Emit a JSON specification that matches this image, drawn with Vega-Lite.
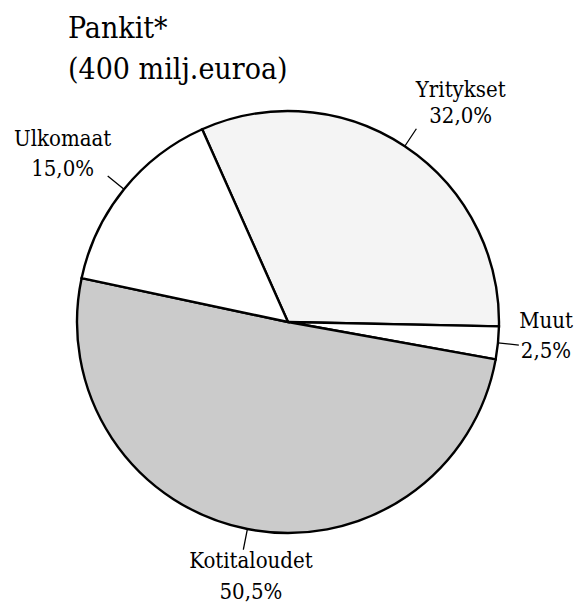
{
  "$schema": "https://vega.github.io/schema/vega-lite/v6.json",
  "width": 576,
  "height": 566,
  "autosize": {"type": "none"},
  "padding": {"left": 0, "top": 39, "right": 0, "bottom": 0},
  "background": "white",
  "title": {
    "text": ["Pankit*", "(400 milj.euroa)"],
    "anchor": "start",
    "frame": "group",
    "font": "DejaVu Serif Condensed, DejaVu Serif",
    "fontSize": 30,
    "fontWeight": "normal",
    "color": "black",
    "lineHeight": 41,
    "dx": 68,
    "dy": 46,
    "offset": 0
  },
  "config": {"view": {"stroke": null}},
  "data": {
    "values": [
      {"cat": "Yritykset", "value": 32.0, "pct": "32,0%", "i": 1},
      {"cat": "Muut", "value": 2.5, "pct": "2,5%", "i": 2},
      {"cat": "Kotitaloudet", "value": 50.5, "pct": "50,5%", "i": 3},
      {"cat": "Ulkomaat", "value": 15.0, "pct": "15,0%", "i": 4}
    ]
  },
  "transform": [{"calculate": "datum.cat + '\\n' + datum.pct", "as": "label"}],
  "encoding": {
    "theta": {"field": "value", "type": "quantitative", "stack": true, "scale": {"range": [-0.4189, 5.8643]}},
    "order": {"field": "i", "type": "quantitative"}
  },
  "layer": [
    {
      "mark": {"type": "arc", "outerRadius": 211, "stroke": "black", "strokeWidth": 2.4},
      "encoding": {
        "color": {
          "field": "cat",
          "type": "nominal",
          "scale": {"domain": ["Yritykset", "Muut", "Kotitaloudet", "Ulkomaat"], "range": ["#f4f4f4", "#ffffff", "#cbcbcb", "#ffffff"]},
          "legend": null
        }
      }
    },
    {
      "transform": [{"stack": "value", "groupby": [], "sort": [{"field": "i", "order": "ascending"}], "as": ["start", "end"]}],
      "mark": {"type": "arc", "radius": 232, "radius2": 211, "padAngle": 3.2, "thetaOffset": 0.025, "theta2Offset": -0.025, "filled": false, "stroke": "black", "strokeWidth": 1.3},
      "encoding": {
        "theta": {"field": "start", "type": "quantitative"},
        "theta2": {"field": "end"}
      }
    },
    {
      "mark": {"type": "text", "radius": 289, "thetaOffset": 0.054, "font": "DejaVu Serif Condensed, DejaVu Serif", "fontSize": 22, "lineBreak": "\n", "lineHeight": 26, "color": "black"},
      "encoding": {
        "text": {"condition": {"test": "datum.cat === 'Yritykset'", "field": "label"}, "value": ""}
      }
    },
    {
      "mark": {"type": "text", "radius": 258, "thetaOffset": -0.103, "font": "DejaVu Serif Condensed, DejaVu Serif", "fontSize": 22, "lineBreak": "\n", "lineHeight": 30, "color": "black"},
      "encoding": {
        "text": {"condition": {"test": "datum.cat === 'Muut'", "field": "label"}, "value": ""}
      }
    },
    {
      "mark": {"type": "text", "radius": 242, "thetaOffset": -0.04, "font": "DejaVu Serif Condensed, DejaVu Serif", "fontSize": 22, "lineBreak": "\n", "lineHeight": 31, "color": "black"},
      "encoding": {
        "text": {"condition": {"test": "datum.cat === 'Kotitaloudet'", "field": "label"}, "value": ""}
      }
    },
    {
      "mark": {"type": "text", "radius": 290, "font": "DejaVu Serif Condensed, DejaVu Serif", "fontSize": 22, "lineBreak": "\n", "lineHeight": 30, "color": "black"},
      "encoding": {
        "text": {"condition": {"test": "datum.cat === 'Ulkomaat'", "field": "label"}, "value": ""}
      }
    }
  ]
}
